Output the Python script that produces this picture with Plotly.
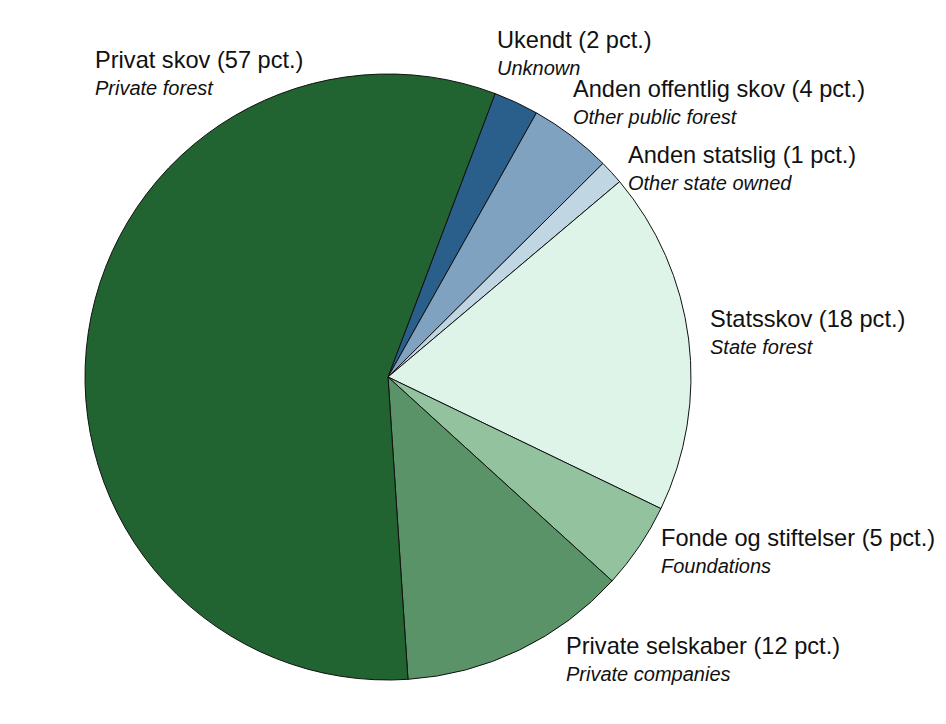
import plotly.graph_objects as go

PAGE_W, PAGE_H = 946, 724
OFF = 8  # browser page offset compensation
W, H = PAGE_W - 2 * OFF, PAGE_H - 2 * OFF

labels_da = ["Ukendt", "Anden offentlig skov", "Anden statslig", "Statsskov",
             "Fonde og stiftelser", "Private selskaber", "Privat skov"]
labels_en = ["Unknown", "Other public forest", "Other state owned", "State forest",
             "Foundations", "Private companies", "Private forest"]
values = [2.4, 4.4, 1.3, 18.3, 4.6, 12.2, 56.8]
pct_labels = [2, 4, 1, 18, 5, 12, 57]
colors = ["#2b5f8b", "#7fa2c0", "#c0d6e2", "#dff4e8", "#93c29f", "#5a9367", "#216331"]

# label anchor positions (pixels from top-left of page)
label_pos = [(497, 40), (573, 89), (628, 155), (710, 319), (661, 538), (566, 646), (95, 60)]

cx, cy, r = 388 - OFF, 377 - OFF, 303

fig = go.Figure(go.Pie(
    labels=labels_da, values=values, sort=False, direction="clockwise",
    rotation=20.7, textinfo="none", hoverinfo="label+percent",
    marker=dict(colors=colors, line=dict(color="#111111", width=1)),
    domain=dict(x=[(cx - r) / W, (cx + r) / W], y=[(H - cy - r) / H, (H - cy + r) / H]),
    showlegend=False,
))

annotations = []
for da, en, p, (x, y) in zip(labels_da, labels_en, pct_labels, label_pos):
    x -= OFF
    y -= OFF
    annotations.append(dict(x=x / W, y=1 - y / H, xref="paper", yref="paper",
                            xanchor="left", yanchor="middle", showarrow=False, xshift=-2,
                            text=f"{da} ({p} pct.)",
                            font=dict(family="Liberation Sans, Arial", size=23.6, color="#111111")))
    annotations.append(dict(x=x / W, y=1 - (y + 28) / H, xref="paper", yref="paper",
                            xanchor="left", yanchor="middle", showarrow=False, xshift=-2,
                            text=f"<i>{en}</i>",
                            font=dict(family="Liberation Sans, Arial", size=20, color="#111111")))

fig.update_layout(width=W, height=H, margin=dict(l=0, r=0, t=0, b=0),
                  paper_bgcolor="white", plot_bgcolor="white", annotations=annotations)
fig.write_html("out.html")
